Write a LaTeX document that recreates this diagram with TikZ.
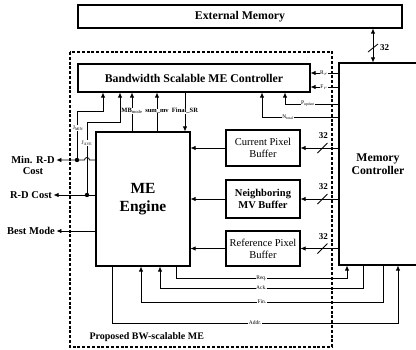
\documentclass[tikz,border=0pt]{standalone}
\usepackage{fontspec}
\setmainfont{Liberation Serif}
\usetikzlibrary{arrows.meta, positioning, calc}

\begin{document}
\begin{tikzpicture}[x=1pt, y=-1pt,
    blk/.style={draw, line width=1.1pt, inner sep=1pt, align=center},
    sig/.style={line width=0.8pt},
    arr/.style={sig, -{Latex[length=5pt, width=4.5pt]}},
    darr/.style={sig, {Latex[length=5pt, width=4.5pt]}-{Latex[length=5pt, width=4.5pt]}},
    lbl/.style={font=\fontsize{5.5}{5.5}\selectfont, fill=white, inner sep=0.5pt},
    blbl/.style={font=\fontsize{6.5}{6.5}\selectfont\bfseries, fill=white, inner sep=0.5pt},
    outl/.style={font=\fontsize{10.5}{11}\selectfont\bfseries, align=center, inner sep=1.5pt},
    bus/.style={font=\fontsize{9}{9}\selectfont\bfseries, inner sep=0pt}]
    \useasboundingbox (0,0) rectangle (416,349);
    \clip (0,0) rectangle (416,349);
    % proposed BW-scalable ME (dashed frame)
    \draw[line width=1.3pt, dash pattern=on 3pt off 1.8pt] (70,52) rectangle (332,347);
    \node[anchor=west, font=\fontsize{10}{10}\selectfont\bfseries] (title) at (86,337) {Proposed BW-scalable ME};
    % blocks
    \node[blk, minimum width=324pt, minimum height=23pt, font=\fontsize{11.8}{11.8}\selectfont\bfseries]
        (extmem) at (240,16.5) {External Memory};
    \node[blk, minimum width=232pt, minimum height=28pt, font=\fontsize{11.8}{11.8}\selectfont\bfseries]
        (ctrl) at (194,78) {Bandwidth Scalable ME Controller};
    \node[blk, minimum width=78pt, minimum height=202pt, font=\fontsize{11.8}{13.5}\selectfont\bfseries]
        (mem) at (378,164) {Memory\\Controller};
    \node[blk, minimum width=94pt, minimum height=134pt, font=\fontsize{15.5}{18}\selectfont\bfseries]
        (me) at (143,199) {ME\\Engine};
    \node[blk, minimum width=74pt, minimum height=36pt, font=\fontsize{10.5}{12}\selectfont]
        (cur) at (263,148) {Current Pixel\\Buffer};
    \node[blk, minimum width=74pt, minimum height=38pt, font=\fontsize{10.5}{12}\selectfont\bfseries]
        (nbr) at (263,199) {Neighboring\\MV Buffer};
    \node[blk, minimum width=74pt, minimum height=35pt, font=\fontsize{10.5}{12}\selectfont]
        (refb) at (263,248.5) {Reference Pixel\\Buffer};
    % external memory <-> memory controller
    \draw[darr] (extmem.south -| 373,0) -- (mem.north -| 373,0);
    \draw[sig] (368,52) -- (378,44);
    \node[bus, anchor=west] (b0) at (380,48) {32};
    % memory controller -> buffers -> ME engine
    \foreach \b in {cur, nbr, refb} {
      \draw[arr] (mem.west |- \b) -- (\b.east);
      \draw[arr] (\b.west) -- (me.east |- \b);
      \draw[sig] ($(mem.west |- \b)+(-21,5)$) -- ++(10,-10);
      \node[bus] at ($(mem.west |- \b)+(-15,-12)$) {32};
    }
    % outputs
    \coordinate (dmin) at (77,160);
    \coordinate (dave) at (87,195);
    \node[outl] (minrd) at (33,165.5) {Min. R-D\\Cost};
    \node[outl] (rdc) at (31,195) {R-D Cost};
    \node[outl] (best) at (31,231) {Best Mode};
    \draw[arr] (me.west |- dmin) -- (89.5,160) arc (0:-180:2.5) -- (minrd.east |- dmin);
    \draw[arr] (me.west |- dave) -- (rdc.east);
    \draw[arr] (me.west |- best) -- (best.east);
    \fill (dmin) circle (2.2);
    \fill (dave) circle (2.2);
    % feedback to controller
    \coordinate (jmin) at (103,111);
    \coordinate (jave) at (120,122);
    \draw[arr] (dmin) |- (jmin) -- (ctrl.south -| jmin);
    \draw[arr] (dave) |- (jave) -- (ctrl.south -| jave);
    \node[lbl] at (78,128) {J$_{\mathrm{MIN}}$};
    \node[lbl] at (87,143) {J$_{\mathrm{AVE}}$};
    \coordinate (mb) at (132,111);
    \coordinate (sm) at (157,111);
    \coordinate (fs) at (185,111);
    \draw[arr] (me.north -| mb) -- (ctrl.south -| mb);
    \draw[arr] (me.north -| sm) -- (ctrl.south -| sm);
    \draw[arr] (ctrl.south -| fs) -- (me.north -| fs);
    \node[blbl] at (mb) {MB$_{\mathrm{mode}}$};
    \node[blbl] at (sm) {sum\_mv};
    \node[blbl] at (fs) {Final\_SR};
    % memory controller -> controller
    \coordinate (rr) at (324,73);
    \coordinate (fr) at (324,87);
    \draw[arr] (mem.west |- rr) -- (ctrl.east |- rr);
    \draw[arr] (mem.west |- fr) -- (ctrl.east |- fr);
    \node[lbl] at (rr) {R$_r$};
    \node[lbl] at (fr) {F$_r$};
    \coordinate (pu) at (285,104);
    \coordinate (nt) at (262,117);
    \draw[arr] (mem.west |- pu) -| (ctrl.south -| pu);
    \draw[arr] (mem.west |- nt) -| (ctrl.south -| nt);
    \node[lbl] at (308,104) {P$_{\mathrm{update}}$};
    \node[lbl] at (288,117) {N$_{\mathrm{total}}$};
    % handshake ME -> memory controller
    \foreach \xa/\xb/\yy/\txt in {176/347/278/Req., 112/398/323/Addr.} {
      \draw[arr] (me.south -| \xa,0) -- (\xa,\yy) -- node[lbl] {\txt} (\xb,\yy) -- (mem.south -| \xb,0);
    }
    % handshake memory controller -> ME
    \foreach \xa/\xb/\yy/\txt in {160/363/288/Ack., 141/383/302/Fin.} {
      \draw[arr] (mem.south -| \xb,0) -- (\xb,\yy) -- node[lbl] {\txt} (\xa,\yy) -- (me.south -| \xa,0);
    }
\end{tikzpicture}
\end{document}
